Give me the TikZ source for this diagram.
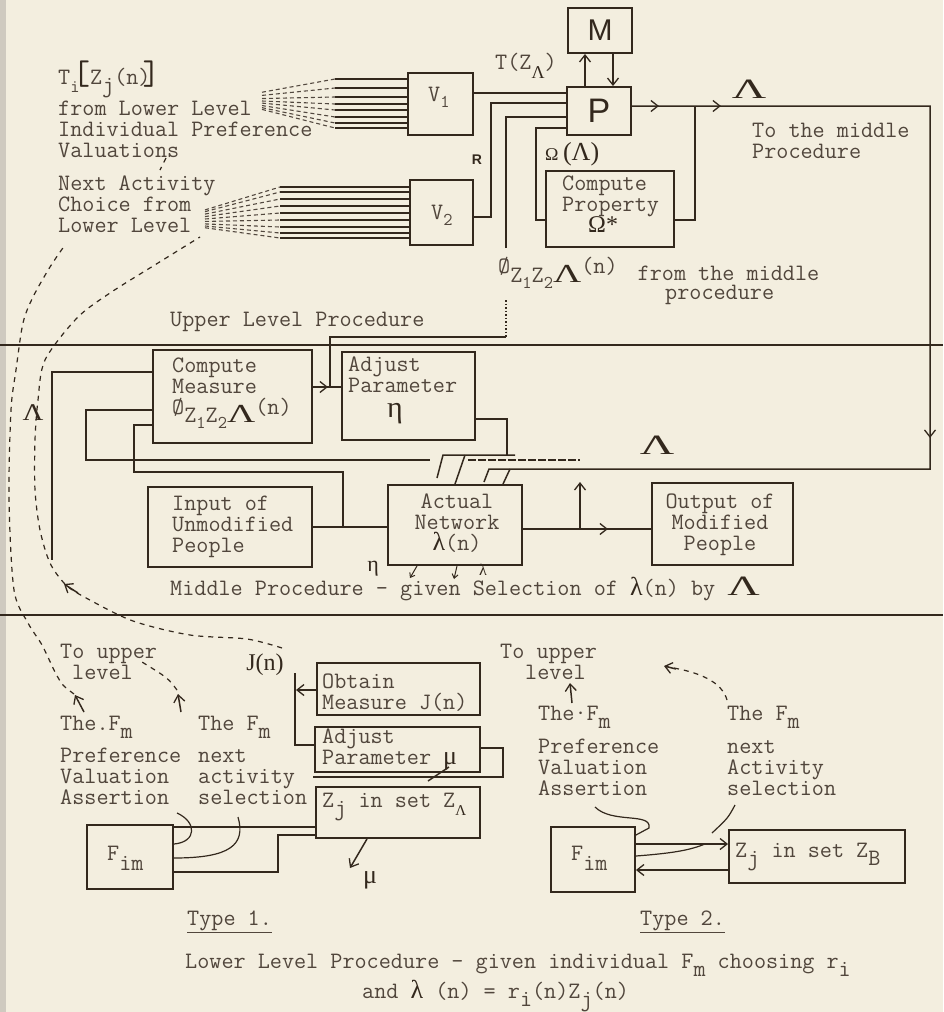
\documentclass[tikz,border=0pt]{standalone}
\usepackage{fontspec}
\newfontfamily\gkf{Liberation Serif}
\newfontfamily\hsf{Liberation Sans}
\usetikzlibrary{arrows.meta,decorations.markings}
\definecolor{paper}{HTML}{F3EEDF}
\definecolor{ink}{HTML}{33281D}
\definecolor{typed}{HTML}{51463C}
\definecolor{edgec}{HTML}{CFCAC0}
\newcommand\tw{\ttfamily\fontsize{23.5}{21}\selectfont}
\newcommand\fs[1]{\fontsize{#1}{#1}\selectfont}
\newcommand\smf{\fontsize{18}{18}\selectfont}
\newcommand\G[1]{{\gkf\textcolor{ink}{#1}}}
\newcommand\sbl[2][8pt]{\smash{\raisebox{-#1}{#2}}}
\newcommand\linesL[1]{\vtop{\baselineskip=21pt\lineskiplimit=-100pt\lineskip=0pt\halign{##\hfil\cr#1\crcr}}}
\newcommand\linesC[1]{\vtop{\baselineskip=21pt\lineskiplimit=-100pt\lineskip=0pt\halign{\hfil##\hfil\cr#1\crcr}}}
\newcommand\wideL[2][1.5]{\scalebox{#1}[1]{#2}}
\tikzset{
 tipA/.tip={Straight Barb[length=7pt,width=11pt,line width=1.3pt]},
 tipS/.tip={Straight Barb[length=4pt,width=6pt,line width=1pt]},
 conn/.style={draw=ink,line width=1.5pt},
 box/.style={draw=ink,line width=1.9pt,inner sep=0pt,rectangle},
 txt/.style={inner sep=0pt,text=typed,font=\tw,anchor=base west},
 hand/.style={inner sep=0pt,text=ink,font=\gkf},
 dsh/.style={draw=ink,line width=1.2pt,dash pattern=on 5pt off 5pt},
 fan/.style={draw=ink!85,line width=1.1pt,dash pattern=on 4pt off 3pt},
 marks/.style={postaction={decorate,decoration={markings,#1}}},
}
\begin{document}
\begin{tikzpicture}[x=1pt,y=-1pt]
\useasboundingbox (0,0) rectangle (943,1012);
\fill[paper] (0,0) rectangle (943,1012);
\fill[edgec] (0,0) rectangle (6,1012);

% ---------- dashed curves (drawn first) ----------
\draw[dsh] plot[smooth] coordinates {(282,648) (247,639) (190,635) (133,621) (88,599) (66,585) (50,563) (40,530) (35,490) (35,440) (38,400) (45,360) (77,318) (110,293) (158,263) (200,237)};
\draw[conn,-{tipA}] (78,593) -- (64,584);
\draw[dsh] plot[smooth] coordinates {(74,694) (63,685) (55,672) (42,645) (28,623) (14,590) (9,500) (11,410) (16,370) (23,323) (33,297) (50,267) (65,245)};
\draw[conn,-{tipA}] (84,712) -- (75,695);
\draw[dsh] (166,158) -- (160,170);
\draw[dsh] (177,690) .. controls (168,678) .. (142,662);
\draw[conn,-{tipA}] (181,712) -- (178,694);
\draw[dsh] (727,700) .. controls (722,682) and (700,672) .. (668,667);
\draw[conn,-{tipA}] (676,669) -- (664,666);
\draw[conn,-{tipA}] (572,703) -- (570,683);

% ---------- boxes ----------
\node[box,minimum width=64pt,minimum height=45pt] (M) at (600,30.5) {};
\node[box,minimum width=64pt,minimum height=48pt] (P) at (599,111) {};
\node[box,minimum width=65pt,minimum height=62pt] (V1) at (440.5,104) {};
\node[box,minimum width=63pt,minimum height=65pt] (V2) at (441.5,212.5) {};
\node[box,minimum width=128pt,minimum height=76pt] (CP) at (610,209) {};
\node[box,minimum width=159pt,minimum height=93pt] (CM) at (232.5,396.5) {};
\node[box,minimum width=133pt,minimum height=88pt] (AE) at (408.5,396) {};
\node[box,minimum width=164pt,minimum height=80pt] (IN) at (230,527) {};
\node[box,minimum width=134pt,minimum height=80pt] (NW) at (455,525) {};
\node[box,minimum width=141pt,minimum height=82pt] (OUT) at (722.5,524) {};
\node[box,minimum width=163pt,minimum height=52pt] (OB) at (398.5,689) {};
\node[box,minimum width=165pt,minimum height=45pt] (AM) at (397.5,749.5) {};
\node[box,minimum width=164pt,minimum height=51pt] (ZA) at (398,812.5) {};
\node[box,minimum width=86pt,minimum height=64pt] (F1) at (130,857) {};
\node[box,minimum width=84pt,minimum height=65pt] (F2) at (593,859.5) {};
\node[box,minimum width=176pt,minimum height=53pt] (ZB) at (817,856.5) {};

% ---------- fans into V1 and V2 ----------
\foreach \yy in {79,88,97,104,110,117,123,128} {
  \pgfmathsetmacro\ys{101+(\yy-104)*0.35}
  \draw[fan] (262,\ys) -- (335,\yy);
  \draw[conn,line width=1.1pt] (335,\yy) -- (V1.west |- 0,\yy);
}
\foreach \yy in {187,192,199,206,213,220,227,233,238} {
  \pgfmathsetmacro\ys{219+(\yy-213)*0.35}
  \draw[fan] (205,\ys) -- (280,\yy);
  \draw[conn,line width=1.1pt] (280,\yy) -- (V2.west |- 0,\yy);
}

% ---------- dividers ----------
\draw[conn] (0,345) -- (943,345);
\draw[conn] (0,615) -- (943,615);

% ---------- upper level connectors ----------
\draw[conn,-{tipA}] (P.north -| 585,0) -- (M.south -| 585,0);
\draw[conn,-{tipA}] (M.south -| 613,0) -- (P.north -| 613,0);
\draw[conn] (V1.east |- 0,93) -- (P.west |- 0,93);
\draw[conn] (V2.east |- 0,217) -- (491,217) -- (491,103) -- (P.west |- 0,103);
\draw[conn] (506,248) -- (506,117) -- (P.west |- 0,117);
\draw[conn,dotted,line width=1.6pt] (506,300) -- (506,337);
\draw[conn] (330,387) -- (330,337) -- (506,337);
\draw[conn] (CP.west |- 0,220) -- (536,220) -- (536,128) -- (P.west |- 0,128);
\draw[conn] (CP.east |- 0,220) -- (695,220) -- (695,106);
\draw[conn,marks={mark=at position 27pt with {\arrow{tipA}},mark=at position 89pt with {\arrow{tipA}},mark=at position 630pt with {\arrow{tipA}}}]
  (P.east |- 0,106) -- (930,106) -- (930,469) -- (489,469) -- (484,482);
\draw[conn] (510,469) -- (NW.north -| 503,0);

% ---------- middle level connectors ----------
\draw[conn] (AE.east |- 0,419) -- (507,419) -- (507,455);
\draw[conn] (515,455) -- (443,455) -- (437,478);
\draw[conn] (465,455) -- (NW.north -| 455,0);
\draw[conn,marks={mark=at position 15pt with {\arrow{tipA}}}] (CM.east |- 0,387) -- (AE.west |- 0,387);
\draw[conn] (CM.west |- 0,372) -- (52,372) -- (52,560);
\draw[conn] (CM.west |- 0,410) -- (86,410) -- (86,460) -- (430,460);
\draw[conn,dash pattern=on 8pt off 2pt] (468,460) -- (580,460);
\draw[conn] (CM.west |- 0,425) -- (134,425) -- (134,472) -- (343,472) -- (343,527);
\draw[conn] (IN.east |- 0,527) -- (NW.west |- 0,527);
\draw[conn,marks={mark=at position 85pt with {\arrow{tipA}}}] (NW.east |- 0,529) -- (OUT.west |- 0,529);
\draw[conn,-{tipA}] (580,529) -- (580,482);
\draw[conn,line width=1pt,-{tipS}] (NW.south -| 417,0) -- (410,578);
\draw[conn,line width=1pt,-{tipS}] (NW.south -| 457,0) -- (454,579);

% ---------- lower level connectors ----------
\draw[conn,-{tipA}] (OB.west |- 0,690) -- (296,690);
\draw[conn] (295,673) -- (295,745) -- (AM.west |- 0,745);
\draw[conn] (AM.east |- 0,748) -- (503,748) -- (503,777) -- (313,777);
\draw[conn] (449,767) -- (428,781);
\draw[conn,-{tipA}] (ZA.south -| 367,0) -- (350,868);
\draw[conn] (F1.east |- 0,827) -- (ZA.west |- 0,827);
\draw[conn] (F1.east |- 0,872) -- (278,872) -- (278,835) -- (ZA.west |- 0,835);
\draw[conn,line width=1.2pt] (177,813) .. controls (197,822) and (197,842) .. (F1.east |- 0,844);
\draw[conn,line width=1.2pt] (238,817) .. controls (246,845) and (230,858) .. (F1.east |- 0,858);
\draw[conn,-{tipA}] (F2.east |- 0,844) -- (ZB.west |- 0,844);
\draw[conn,-{tipA}] (ZB.west |- 0,870) -- (F2.east |- 0,870);
\draw[conn,line width=1.2pt] (595,807) .. controls (612,824) and (652,812) .. (649,828) -- (F2.east |- 0,835);
\draw[conn,line width=1.2pt] (735,805) .. controls (728,818) .. (712,833);
\draw[conn,line width=1.2pt] (F2.east |- 0,856) .. controls (675,853) and (690,850) .. (705,844);

% ---------- texts: upper level ----------
\node[txt] (tT) at (58,84) {T\sbl{\smf i}\hspace{-7pt}\textcolor{ink}{\fs{34}[}Z\sbl{j}(n)\hspace{-8pt}\textcolor{ink}{\fs{34}]}};
\node[txt] (tFrom) at (58,115) {\linesL{from Lower Level\cr Individual Preference\cr Valuations}};
\node[txt] (tNext) at (58,190) {\linesL{Next Activity\cr Choice from\cr Lower Level}};
\node[txt] (tV1) at (428,101) {V\sbl[6pt]{\smf 1}};
\node[txt] (tV2) at (431,219) {V\sbl[6pt]{\smf 2}};
\node[hand,font=\hsf\fs{30}] (tM) at (M) {M};
\node[hand,font=\hsf\fs{34}] (tP) at (P) {P};
\node[txt] (tTZ) at (495,69) {T(Z\sbl[9pt]{\G{\fs{18}Λ}})};
\node[hand,font=\hsf\bfseries\fs{14}] (tR) at (477,160) {R};
\node[hand,anchor=base west] (tOm) at (545,160) {\fs{18}Ω \fs{26}(Λ)};
\node[txt] (tCP) at (562,190) {\linesL{Compute\cr Property\cr\hspace*{26pt}\G{\fs{24}Ω*}}};
\node[hand,font=\gkf\fs{28}] (tL1) at (749,89) {\wideL[1.7]{Λ}};
\node[txt] (tMid) at (752,137) {\linesL{To the middle\cr Procedure}};
\node[txt] (tPhi) at (498,280) {\raisebox{7pt}{Ø}\sbl[2pt]{Z\sbl[6pt]{\smf 1}Z\sbl[6pt]{\smf 2}\G{\fs{26}\wideL{Λ}}}\raisebox{7pt}{(n)}\hspace{8pt} from the middle};
\node[txt] (tProc) at (665,299) {procedure};
\node[txt] (tUp) at (170,326) {Upper Level Procedure};

% ---------- texts: middle level ----------
\node[txt] (tCM) at (172,372) {\linesL{Compute\cr Measure\cr Ø\sbl{Z\sbl[6pt]{\smf 1}Z\sbl[6pt]{\smf 2}\G{\fs{26}\wideL{Λ}}}(n)}};
\node[txt] (tAE) at (348,371) {\linesL{Adjust\cr Parameter}};
\node[hand,font=\gkf\fs{30}] (tEta) at (395,414) {η};
\node[txt] (tIN) at (172,510) {\linesL{Input of\cr Unmodified\cr People}};
\node[txt,anchor=base] (tNW) at (457,508) {\linesC{Actual\cr Network\cr\G{\fs{26}λ}(n)}};
\node[txt,anchor=base] (tOUT) at (720,508) {\linesC{Output of\cr Modified\cr People}};
\node[hand,font=\gkf\fs{28}] (tL2) at (657,445) {\wideL[1.7]{Λ}};
\node[hand,font=\gkf\fs{24}] (tL3) at (33,413) {\wideL[1.2]{Λ}};
\node[hand,font=\gkf\fs{22}] (tEta2) at (373,569) {η};
\node[hand,font=\gkf\fs{16}] (tLam2) at (483,570) {λ};
\node[txt] (tMP) at (170,595) {Middle Procedure - given Selection of \G{\fs{26}λ}(n) by \G{\fs{28}\wideL[1.6]{Λ}}};

% ---------- texts: lower level ----------
\node[txt] (tUp1) at (60,658) {\linesL{To upper\cr\hspace*{12pt}level}};
\node[hand,font=\gkf\fs{24}] (tJ) at (265,665) {J(n)};
\node[txt] (tOB) at (322,688) {\linesL{Obtain\cr Measure J(n)}};
\node[txt] (tAM) at (322,743) {\linesL{Adjust\cr Parameter \G{\fs{26}μ}}};
\node[txt] (tZA) at (322,807) {Z\sbl{j} in set Z\sbl{\G{\fs{15}Λ}}};
\node[txt] (tA1) at (60,730) {\linesL{The.F\sbl{m}\cr\noalign{\vskip11pt}Preference\cr Valuation\cr Assertion}};
\node[txt] (tB1) at (198,730) {\linesL{The F\sbl{m}\cr\noalign{\vskip11pt}next\cr activity\cr selection}};
\node[txt] (tF1) at (107,860) {F\sbl[10pt]{im}};
\node[hand,font=\gkf\fs{26}] (tMu) at (370,880) {μ};
\node[txt] (tUp2) at (500,658) {\linesL{To upper\cr\hspace*{25pt}level}};
\node[txt] (tA2) at (538,720) {\linesL{The·F\sbl{m}\cr\noalign{\vskip12pt}Preference\cr Valuation\cr Assertion}};
\node[txt] (tB2) at (727,720) {\linesL{The F\sbl{m}\cr\noalign{\vskip12pt}next\cr Activity\cr selection}};
\node[txt] (tF2) at (571,860) {F\sbl[10pt]{im}};
\node[txt] (tZB) at (735,857) {Z\sbl{j} in set Z\sbl{B}};
\node[txt] (tT1) at (187,925) {\underline{Type 1.}};
\node[txt] (tT2) at (640,925) {\underline{Type 2.}};
\node[txt] (tLL) at (185,968) {Lower Level Procedure - given individual F\sbl{m} choosing r\sbl{i}};
\node[txt] (tAnd) at (362,998) {and \G{\fs{26}λ} (n) = r\sbl{i}(n)Z\sbl{j}(n)};
\end{tikzpicture}
\end{document}
